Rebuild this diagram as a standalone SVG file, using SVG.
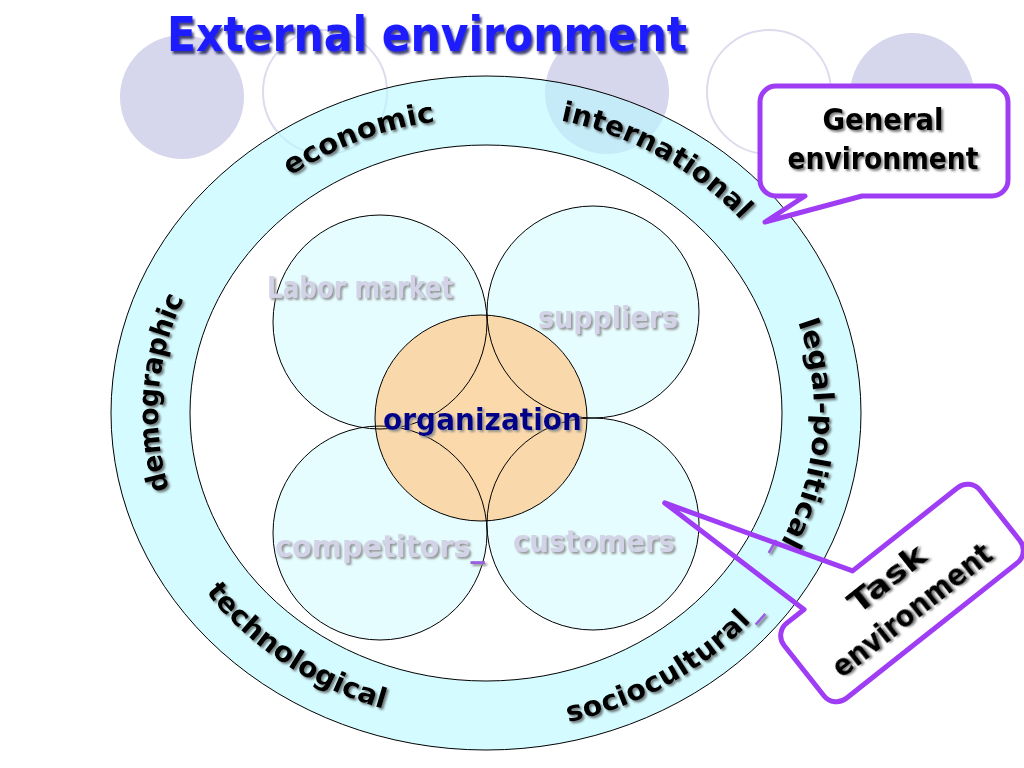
<svg xmlns="http://www.w3.org/2000/svg" width="1024" height="768" viewBox="0 0 1024 768">
<defs>
  <filter id="sh" x="-10%" y="-30%" width="120%" height="160%">
    <feDropShadow dx="2" dy="2" stdDeviation="0.8" flood-color="#444" flood-opacity="0.7"/>
  </filter>
  <filter id="shTitle" x="-10%" y="-30%" width="120%" height="160%">
    <feDropShadow dx="2" dy="3" stdDeviation="1" flood-color="#1a1a55" flood-opacity="0.8"/>
  </filter>
  <filter id="shSoft" x="-10%" y="-30%" width="120%" height="160%">
    <feDropShadow dx="2" dy="2" stdDeviation="0.8" flood-color="#8a8a8a" flood-opacity="0.9"/>
  </filter>
  <path id="cw" d="M 486,708 A 328 295 0 0 1 158,413 A 328 295 0 0 1 486,118 A 328 295 0 0 1 814,413 A 328 295 0 0 1 486,708"/>
  <path id="ccw" d="M 143,413 A 343 310 0 0 0 486,723 A 343 310 0 0 0 829,413 A 343 310 0 0 0 486,103 A 343 310 0 0 0 143,413"/>
</defs>
<style>
  text { font-family: "DejaVu Sans", "Liberation Sans", sans-serif; font-weight: bold; }
  .deco { fill: #d6d6ec; }
  .decoLine { fill: none; stroke: #dcdcee; stroke-width: 2; }
  .ring { fill: #b8f8ff; fill-opacity: 0.6; fill-rule: evenodd; stroke: #000; stroke-width: 1; }
  .task { fill: #e6fdff; stroke: none; }
  .taskLine { fill: none; stroke: #000; stroke-width: 1; }
  .org { fill: #fbd29c; fill-opacity: 0.85; stroke: #000; stroke-width: 1; }
  .ringLbl { font-size: 28px; fill: #000; filter: url(#sh); }
  .inLbl { font-size: 31px; fill: #d3d3e8; filter: url(#shSoft); }
  .calloutFill { fill: #fff; stroke: none; }
  .calloutLine { fill: none; stroke: #9f3df5; stroke-width: 5; stroke-linejoin: round; }
  .callout { fill: #fff; stroke: #9f3df5; stroke-width: 5; stroke-linejoin: round; }
  .calloutTxt { font-size: 30px; fill: #000; filter: url(#sh); text-anchor: middle; }
  .purple { fill: #9a5fe0; }
</style>
<rect width="1024" height="768" fill="#fff"/>

<g id="background-circles">
  <circle class="deco" cx="182" cy="97" r="62"/>
  <circle class="decoLine" cx="325" cy="92" r="62"/>
  <circle class="deco" cx="607" cy="92" r="62"/>
  <circle class="decoLine" cx="769" cy="92" r="62"/>
  <circle class="deco" cx="912" cy="95" r="62"/>
</g>

<g id="title">
  <text x="167" y="51" font-size="48" fill="#1e1eff" textLength="520" lengthAdjust="spacingAndGlyphs" filter="url(#shTitle)">External environment</text>
</g>

<g id="general-environment-ring">
  <path class="ring" d="M 111,413 A 375 337 0 1 1 861,413 A 375 337 0 1 1 111,413 Z M 190,413 A 296 268 0 1 0 782,413 A 296 268 0 1 0 190,413 Z"/>
  <text class="ringLbl"><textPath href="#cw" startOffset="510" text-anchor="middle" textLength="196" lengthAdjust="spacingAndGlyphs">demographic</textPath></text>
  <text class="ringLbl"><textPath href="#cw" startOffset="850" text-anchor="middle" textLength="156" lengthAdjust="spacingAndGlyphs">economic</textPath></text>
  <text class="ringLbl" dy="-5"><textPath href="#cw" startOffset="1156" text-anchor="middle" textLength="206" lengthAdjust="spacingAndGlyphs">international</textPath></text>
  <text class="ringLbl"><textPath href="#cw" startOffset="1497" text-anchor="middle" textLength="243" lengthAdjust="spacingAndGlyphs">legal-political<tspan class="purple">_</tspan></textPath></text>
  <text class="ringLbl"><textPath href="#ccw" startOffset="301" text-anchor="middle" textLength="216" lengthAdjust="spacingAndGlyphs">technological</textPath></text>
  <text class="ringLbl" dy="8"><textPath href="#ccw" startOffset="705" text-anchor="middle" textLength="222" lengthAdjust="spacingAndGlyphs">sociocultural<tspan class="purple">_</tspan></textPath></text>
</g>

<g id="task-circles">
  <circle class="task" cx="380" cy="322" r="107"/>
  <circle class="task" cx="593" cy="312" r="106"/>
  <circle class="task" cx="380" cy="533" r="107"/>
  <circle class="task" cx="593" cy="524" r="106"/>
</g>

<g id="organization">
  <ellipse class="org" cx="481" cy="418" rx="106" ry="103"/>
</g>

<g id="task-circle-outlines">
  <circle class="taskLine" cx="380" cy="322" r="107"/>
  <circle class="taskLine" cx="593" cy="312" r="106"/>
  <circle class="taskLine" cx="380" cy="533" r="107"/>
  <circle class="taskLine" cx="593" cy="524" r="106"/>
</g>

<g id="labor-market">
  <text class="inLbl" x="267" y="298" font-size="29" textLength="186" lengthAdjust="spacingAndGlyphs">Labor market</text>
</g>
<g id="suppliers">
  <text class="inLbl" x="538" y="328" textLength="140" lengthAdjust="spacingAndGlyphs">suppliers</text>
</g>
<g id="competitors">
  <text class="inLbl" x="275" y="557" font-size="29" textLength="210" lengthAdjust="spacingAndGlyphs">competitors<tspan class="purple">_</tspan></text>
</g>
<g id="customers">
  <text class="inLbl" x="513" y="552" textLength="162" lengthAdjust="spacingAndGlyphs">customers</text>
</g>
<g id="organization-label">
  <text x="383" y="430" font-size="30" fill="#000088" filter="url(#shSoft)" textLength="199" lengthAdjust="spacingAndGlyphs">organization</text>
</g>

<g id="general-environment-callout">
  <path class="callout" d="M 776,86 H 992 A 16 16 0 0 1 1008,102 V 180 A 16 16 0 0 1 992,196 H 862 L 765,222 L 805,196 H 776 A 16 16 0 0 1 760,180 V 102 A 16 16 0 0 1 776,86 Z"/>
  <text class="calloutTxt" x="883" y="130" textLength="121" lengthAdjust="spacingAndGlyphs">General</text>
  <text class="calloutTxt" x="883" y="169" textLength="191" lengthAdjust="spacingAndGlyphs">environment</text>
</g>

<g id="task-environment-callout" transform="translate(902,593) rotate(-38.4)">
  <rect class="calloutFill" x="-125" y="-48" width="250" height="96" rx="16"/>
  <path class="calloutLine" d="M -109,-48 H -87 L -130,-218 L -25,-48 H 109 A 16 16 0 0 1 125,-32 V 32 A 16 16 0 0 1 109,48 H -109 A 16 16 0 0 1 -125,32 V -32 A 16 16 0 0 1 -109,-48 Z"/>
  <text class="calloutTxt" x="-3" y="-10" textLength="90" lengthAdjust="spacingAndGlyphs">Task</text>
  <text class="calloutTxt" x="-3" y="30" textLength="195" lengthAdjust="spacingAndGlyphs">environment</text>
</g>
</svg>
